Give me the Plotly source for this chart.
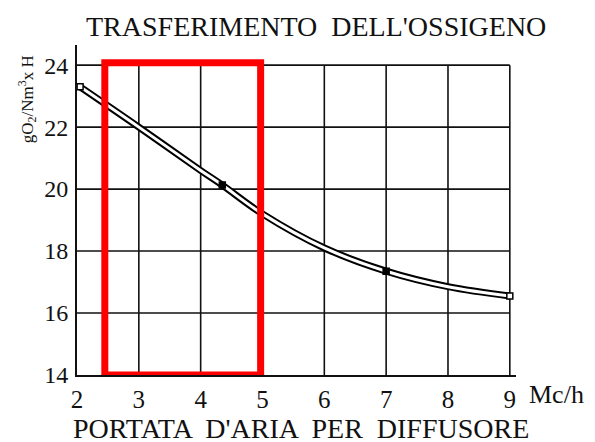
import plotly.graph_objects as go

# Data
x_vals = [2.05, 3, 4, 4.35, 5, 6, 7, 8, 9]
y_vals = [23.3, 22.0, 20.6, 20.13, 19.2, 18.1, 17.35, 16.85, 16.55]
marker_x = [2.05, 4.35, 7, 9]
marker_y = [23.3, 20.13, 17.35, 16.55]
marker_fill = ["white", "black", "black", "white"]

x_ticks = [2, 3, 4, 5, 6, 7, 8, 9]
y_ticks = [14, 16, 18, 20, 22, 24]

title_text = "TRASFERIMENTO  DELL'OSSIGENO"
x_title = "PORTATA  D'ARIA  PER  DIFFUSORE"
x_unit = "Mc/h"
y_title = "gO<sub>2</sub>/Nm<sup>3</sup>x H"

highlight_x = [2.45, 4.97]
highlight_y = [14.0, 24.08]

FONT = "Liberation Serif, Times New Roman, DejaVu Serif, serif"
TXT = "#111111"

fig = go.Figure()

# double line curve: black thick + white inner
fig.add_trace(go.Scatter(x=x_vals, y=y_vals, mode="lines",
                         line=dict(color="black", width=7, shape="spline"),
                         hoverinfo="skip", showlegend=False))
fig.add_trace(go.Scatter(x=x_vals, y=y_vals, mode="lines",
                         line=dict(color="white", width=3, shape="spline"),
                         hoverinfo="skip", showlegend=False))
fig.add_trace(go.Scatter(x=marker_x, y=marker_y, mode="markers",
                         marker=dict(symbol="square", size=6, color=marker_fill,
                                     line=dict(color="black", width=1.5)),
                         showlegend=False))

shapes = []
# horizontal grid lines (stop at x=9)
for yv in y_ticks[1:]:
    shapes.append(dict(type="line", xref="x", yref="y", x0=x_ticks[0], x1=x_ticks[-1],
                       y0=yv, y1=yv, line=dict(color="#111", width=1.6), layer="below"))
# vertical grid lines (stop at y=24)
for xv in x_ticks[1:]:
    shapes.append(dict(type="line", xref="x", yref="y", x0=xv, x1=xv,
                       y0=y_ticks[0], y1=y_ticks[-1], line=dict(color="#111", width=1.6), layer="below"))
# red highlight rectangle
shapes.append(dict(type="rect", xref="x", yref="y", x0=highlight_x[0], x1=highlight_x[1],
                   y0=highlight_y[0], y1=highlight_y[1], line=dict(color="#ff0000", width=7),
                   fillcolor="rgba(0,0,0,0)", layer="above"))

annotations = [
    dict(text=title_text, xref="paper", yref="paper", x=0.545, y=1.0, yshift=19,
         xanchor="center", yanchor="middle", showarrow=False,
         font=dict(family=FONT, size=28, color=TXT)),
    dict(text=x_title, xref="paper", yref="paper", x=0.51, y=0, yshift=-53,
         xanchor="center", yanchor="middle", showarrow=False,
         font=dict(family=FONT, size=28, color=TXT)),
    dict(text=x_unit, xref="x", yref="paper", x=9, y=0, xshift=17, yshift=-19,
         xanchor="left", yanchor="middle", showarrow=False,
         font=dict(family=FONT, size=26, color=TXT)),
    dict(text=y_title, xref="paper", yref="y", x=0, y=22.9, xshift=-50,
         xanchor="center", yanchor="middle", textangle=-90, showarrow=False,
         font=dict(family=FONT, size=17, color=TXT)),
]

# page body has an 8px default margin: size the figure to fit the 595x442 window
fig.update_layout(
    width=587, height=434,
    margin=dict(l=69, r=79, t=37, b=67),
    paper_bgcolor="white", plot_bgcolor="white",
    font=dict(family=FONT, color=TXT),
    shapes=shapes, annotations=annotations,
    xaxis=dict(range=[2, 9.1], tickvals=x_ticks, showgrid=False, zeroline=False,
               showline=True, linecolor="#111", linewidth=2, ticks="",
               automargin=False, ticklabelstandoff=1,
               tickfont=dict(family=FONT, size=25, color=TXT)),
    yaxis=dict(range=[14, 24.65], tickvals=y_ticks, showgrid=False, zeroline=False,
               showline=True, linecolor="#111", linewidth=2, ticks="",
               automargin=False, ticklabelstandoff=2,
               tickfont=dict(family=FONT, size=24, color=TXT)),
)

fig.write_html("out.html")
